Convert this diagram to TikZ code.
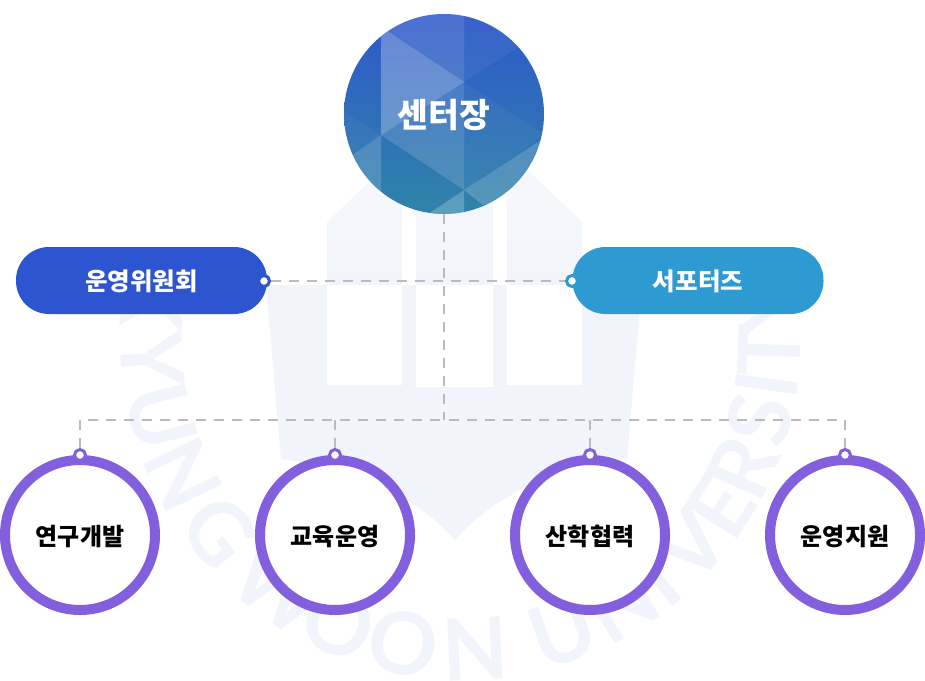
\documentclass[tikz,border=0pt]{standalone}
\usepackage{fontspec}
\setmainfont{Noto Sans CJK KR}
\newfontfamily\wmfont{Lato}
\definecolor{wmblue}{HTML}{F1F4FA}
\definecolor{wmlight}{HTML}{F6F8FC}
\definecolor{boardblue}{HTML}{2D55D0}
\definecolor{supportblue}{HTML}{2E9AD2}
\definecolor{ringpurple}{HTML}{825FDD}
\definecolor{linegray}{HTML}{BBBBBB}
\definecolor{bosstop}{HTML}{2F58CC}
\definecolor{bossbottom}{HTML}{2F84A8}
\tikzset{
  x=1pt, y=1pt,
  link/.style={draw=linegray, line width=2pt, dash pattern=on 10pt off 8pt},
  facet/.style={fill=white, fill opacity=#1, draw=none},
  wmletter/.style={anchor=base, inner sep=0pt, text=wmblue, font=\wmfont\fontsize{86}{86}\selectfont\bfseries},
  pill/.style={rectangle, rounded corners=33pt, minimum width=251pt, minimum height=67pt, inner sep=0pt,
    text=white, text height=20pt, text depth=0pt, font=\fontsize{24.5}{30}\selectfont\bfseries},
  ring/.style={circle, draw=ringpurple, fill=white, line width=10pt, minimum size=150pt, inner sep=0pt,
    text=black, text height=21pt, text depth=0pt, font=\fontsize{24}{30}\selectfont\bfseries},
  pin/.style={circle, draw=#1, fill=white, line width=3pt, minimum size=11pt, inner sep=0pt}
}
\begin{document}
\begin{tikzpicture}
      \useasboundingbox (0,0) rectangle (925,-680);

      \fill[wmblue] (266,-285) -- (642,-285) -- (627,-459) .. controls (550,-470) and (495,-495) .. (455,-540)
        .. controls (415,-495) and (360,-470) .. (281,-459) -- cycle;
      \shade[top color=wmlight, bottom color=wmblue] (327,-285) -- (327,-222) -- (392,-160) -- (517,-160) -- (582,-222) -- (582,-285) -- cycle;
      \fill[white] (327,-285) rectangle (402,-385);
      \fill[white] (416,-285) rectangle (493,-387);
      \fill[white] (507,-285) rectangle (582,-385);
      \fill[white] (402,-150) rectangle (416,-285);
      \fill[white] (493,-150) rectangle (507,-285);

      \begin{scope}[shift={(461,-340)}]
        \foreach \letter/\ang in {K/172.5, Y/183.6, U/194.4, N/205.9, G/218.4, W/233.9, O/246.7, O/259.3, N/272.6,
                                  U/289.2, N/301.4, I/309.5, V/318.2, E/327.3, R/335.7, S/345, I/351.8, T/358, Y/366}
          \node[wmletter, rotate=\ang-270] at (\ang:340) {\letter};
      \end{scope}

      \begin{scope}
        \clip (444,-114) circle (100);
        \shade[top color=bosstop, bottom color=bossbottom] (344,-14) rectangle (544,-214);
        \fill[facet=0.14] (381,-14) -- (464,-14) -- (464,-82) -- (381,-27) -- cycle;
        \fill[facet=0.28] (381,-27) -- (464,-82) -- (381,-135) -- cycle;
        \fill[facet=0.14] (464,-82) -- (381,-135) -- (464,-190) -- cycle;
        \fill[facet=0.05] (464,-14) -- (464,-82) -- (517,-48) -- (517,-14) -- cycle;
        \fill[facet=0.04] (464,-82) -- (544,-135) -- (464,-190) -- cycle;
        \fill[facet=0.18] (464,-190) -- (544,-138) -- (544,-190) -- (483,-205) -- cycle;
        \fill[facet=0.22] (464,-190) -- (428,-214) -- (464,-214) -- cycle;
        \fill[facet=0.16] (381,-135) -- (344,-161) -- (344,-214) -- (381,-214) -- cycle;
        \fill[facet=0.04] (344,-112) -- (381,-135) -- (344,-161) -- cycle;
      \end{scope}

      \node[circle, minimum size=200pt, inner sep=0pt, text=white, text height=26pt, text depth=0pt, font=\fontsize{33.5}{40}\selectfont\bfseries] at (444,-114) (boss) {센터장};

      \node[pill, fill=boardblue]   at (141.5,-280.5) (board)   {운영위원회};
      \node[pill, fill=supportblue] at (698,-280.5)   (support) {서포터즈};

      \node[ring] at (80,-535)  (research) {연구개발};
      \node[ring] at (335,-535) (edu)      {교육운영};
      \node[ring] at (590,-535) (coop)     {산학협력};
      \node[ring] at (845,-535) (admin)    {운영지원};

      \node[pin=boardblue]   at (264,-281) (boardpin)   {};
      \node[pin=supportblue] at (572,-281) (supportpin) {};
      \node[pin=ringpurple]  at (80,-455)  (researchpin) {};
      \node[pin=ringpurple]  at (335,-455) (edupin)      {};
      \node[pin=ringpurple]  at (590,-455) (cooppin)     {};
      \node[pin=ringpurple]  at (845,-455) (adminpin)    {};

      \coordinate (bus) at (444,-420);

      \draw[link] (boardpin) -- (supportpin);
      \draw[link] (boss) -- (bus);
      \draw[link] (researchpin) |- (bus);
      \draw[link] (adminpin) |- (bus);
      \draw[link] (edupin) -- (edupin |- bus);
      \draw[link] (cooppin) -- (cooppin |- bus);
\end{tikzpicture}
\end{document}
